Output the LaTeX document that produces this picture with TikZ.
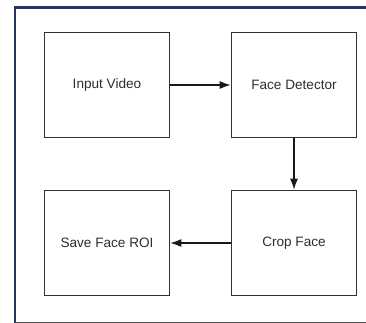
\documentclass[tikz,border=0pt]{standalone}
\usepackage{fontspec}
\setmainfont{Liberation Sans}
\usetikzlibrary{arrows.meta}

\begin{document}
\begin{tikzpicture}[x = 1pt, y = -1pt,
        stage/.style = {draw = boxColor, line width = 1.6pt, text = textColor,
                        minimum width = 125pt, minimum height = 105pt,
                        inner sep = 0pt, font = \fontsize{13.6}{15}\selectfont},
        flow/.style = {line width = 1.3pt, draw = black!90,
                       -{Latex[length = 11pt, width = 8pt]}}]
            % \draw [help lines,step = 10pt] (0,0) grid (366,323);
            \useasboundingbox (0,0) rectangle (366,323);

            \definecolor{frameColor}{RGB}{36,52,92};
            \definecolor{boxColor}{RGB}{50,50,50};
            \definecolor{textColor}{RGB}{45,45,45};

            % outer frame
            \draw [frameColor, line width = 2.2pt] (15,323) -- (15,7.5) -- (370,7.5);
            \draw [black!70, line width = 1.5pt] (15,322.5) -- (370,322.5);

            % the four stages
            \node [stage] (input)  at (107,85)  {Input Video};
            \node [stage] (detect) at (294,85)  {Face Detector};
            \node [stage] (crop)   at (294,243) {Crop Face};
            \node [stage] (save)   at (107,243) {Save Face ROI};

            \draw [flow] (input) -- (detect);
            \draw [flow] (detect) -- (crop);
            \draw [flow] (crop) -- (save);

        \end{tikzpicture}
\end{document}
